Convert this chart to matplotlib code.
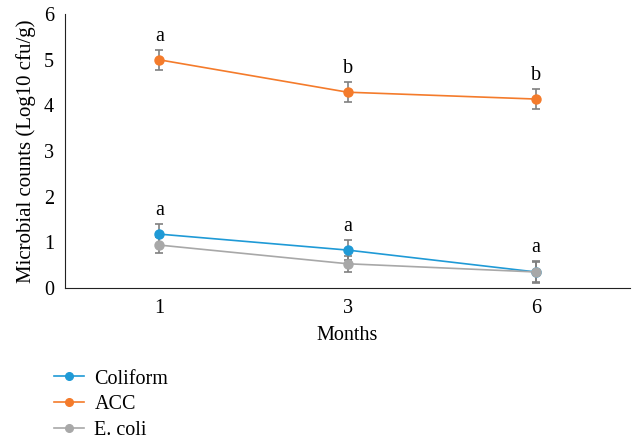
import matplotlib.pyplot as plt
from matplotlib.lines import Line2D

plt.rcParams['font.family'] = ['Liberation Serif', 'DejaVu Serif']

months = ['1', '3', '6']
coliform = [1.18, 0.83, 0.35]
acc = [5.0, 4.29, 4.14]
ecoli = [0.94, 0.53, 0.35]
err = [0.22, 0.22, 0.22]
coliform_err = [0.22, 0.22, 0.24]
ecoli_err = [0.17, 0.18, 0.22]

acc_letters = ['a', 'b', 'b']
coliform_letters = ['a', 'a', 'a']

fig = plt.figure(figsize=(6.32, 4.43), dpi=100)
ax = fig.add_axes([0.103, 0.35, 0.894, 0.618])

x = list(range(len(months)))
series = [
    ('Coliform', coliform, coliform_err, '#1f9ad6'),
    ('ACC', acc, err, '#f47b2b'),
    ('E. coli', ecoli, ecoli_err, '#a8a8a8'),
]
handles = []
for name, vals, e, col in series:
    ax.errorbar(x, vals, yerr=e, color=col, marker='o', markersize=6.5,
                linewidth=1.2, ecolor='#808080', elinewidth=1.2, capsize=3,
                capthick=1.2)
    handles.append(Line2D([], [], color=col, marker='o', markersize=5.5,
                          linewidth=1.2, label=name))

for i in x:
    ax.annotate(acc_letters[i], (i, acc[i] + err[i]), xytext=(0, 3),
                textcoords='offset points', ha='center', va='bottom', fontsize=14.5)
    ax.annotate(coliform_letters[i], (i, coliform[i] + coliform_err[i]), xytext=(0, 3),
                textcoords='offset points', ha='center', va='bottom', fontsize=14.5)

ax.set_xlim(-0.5, 2.5)
ax.set_ylim(0, 6)
ax.set_xticks(x)
ax.set_xticklabels(months)
ax.set_yticks(range(7))
ax.tick_params(length=0, labelsize=14.5, pad=8)
ax.spines['top'].set_visible(False)
ax.spines['right'].set_visible(False)
ax.spines['left'].set_color('#222222')
ax.spines['bottom'].set_color('#222222')
ax.set_xlabel('Months', fontsize=14.5, labelpad=6)
ax.set_ylabel('Microbial counts (Log10 cfu/g)', fontsize=15, labelpad=6)

fig.legend(handles=handles, loc='upper left', bbox_to_anchor=(0.057, 0.207),
           frameon=False, fontsize=14.5, handlelength=1.5, handletextpad=0.5,
           labelspacing=0.32)

fig.savefig('out.png', dpi=100)
